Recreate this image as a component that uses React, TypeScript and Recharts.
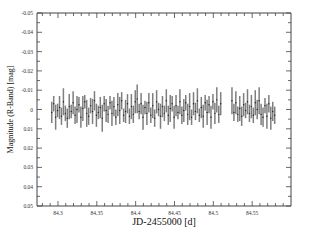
import React from 'react';
import { ComposedChart, Scatter, ErrorBar, XAxis, YAxis, Label } from 'recharts';

const timesA = [
  84.2920, 84.2945, 84.2970, 84.2995, 84.3020, 84.3045, 84.3070, 84.3095, 84.3120, 84.3145,
  84.3170, 84.3195, 84.3220, 84.3245, 84.3270, 84.3295, 84.3320, 84.3345, 84.3370, 84.3395,
  84.3420, 84.3445, 84.3470, 84.3495, 84.3520, 84.3545, 84.3570, 84.3595, 84.3620, 84.3645,
  84.3670, 84.3695, 84.3720, 84.3745, 84.3770, 84.3795, 84.3820, 84.3845, 84.3870, 84.3895,
  84.3920, 84.3945, 84.3970, 84.3995, 84.4020, 84.4045, 84.4070, 84.4095, 84.4120, 84.4145,
  84.4170, 84.4195, 84.4220, 84.4245, 84.4270, 84.4295, 84.4320, 84.4345, 84.4370, 84.4395,
  84.4420, 84.4445, 84.4470, 84.4495, 84.4520, 84.4545, 84.4570, 84.4595, 84.4620, 84.4645,
  84.4670, 84.4695, 84.4720, 84.4745, 84.4770, 84.4795, 84.4820, 84.4845, 84.4870, 84.4895,
  84.4920, 84.4945, 84.4970, 84.4995, 84.5020, 84.5045, 84.5070, 84.5095,
];
const magsA = [
  0.0015, -0.0030, 0.0040, 0.0005, -0.0010, 0.0035, -0.0040, 0.0020, 0.0045, -0.0015,
  0.0010, -0.0035, 0.0030, 0.0000, -0.0025, 0.0040, -0.0005, -0.0040, 0.0020, 0.0035,
  -0.0020, 0.0010, -0.0045, 0.0030, 0.0015, -0.0010, 0.0045, -0.0030, 0.0005, 0.0025,
  -0.0035, 0.0020, -0.0015, 0.0040, -0.0025, 0.0005, -0.0045, 0.0030, 0.0010, -0.0030,
  0.0035, -0.0015, 0.0025, -0.0040, -0.0055, 0.0010, -0.0030, 0.0040, -0.0010, 0.0020,
  -0.0035, 0.0030, -0.0020, 0.0045, -0.0040, 0.0000, 0.0035, -0.0015, 0.0020, -0.0045,
  0.0030, -0.0005, -0.0030, 0.0040, -0.0020, 0.0015, -0.0040, 0.0030, 0.0005, -0.0035,
  0.0025, -0.0015, 0.0040, -0.0030, 0.0010, -0.0045, 0.0030, -0.0010, 0.0035, -0.0035,
  0.0015, -0.0025, 0.0040, -0.0040, 0.0020, -0.0050, 0.0025, -0.0030,
];
const errsA = [
  0.0055, 0.0040, 0.0065, 0.0035, 0.0060, 0.0045, 0.0070, 0.0040, 0.0050, 0.0065,
  0.0035, 0.0060, 0.0045, 0.0070, 0.0040, 0.0055, 0.0065, 0.0035, 0.0070, 0.0045,
  0.0040, 0.0065, 0.0050, 0.0060, 0.0035, 0.0055, 0.0070, 0.0040, 0.0060, 0.0045,
  0.0035, 0.0065, 0.0050, 0.0040, 0.0060, 0.0070, 0.0045, 0.0035, 0.0060, 0.0050,
  0.0040, 0.0065, 0.0045, 0.0060, 0.0075, 0.0040, 0.0055, 0.0065, 0.0035, 0.0060,
  0.0050, 0.0040, 0.0065, 0.0045, 0.0060, 0.0035, 0.0065, 0.0055, 0.0040, 0.0060,
  0.0050, 0.0070, 0.0040, 0.0060, 0.0055, 0.0035, 0.0065, 0.0045, 0.0060, 0.0040,
  0.0055, 0.0070, 0.0040, 0.0060, 0.0045, 0.0065, 0.0035, 0.0055, 0.0060, 0.0040,
  0.0065, 0.0045, 0.0060, 0.0040, 0.0055, 0.0065, 0.0045, 0.0060,
];
const timesB = [
  84.5240, 84.5265, 84.5290, 84.5315, 84.5340, 84.5365, 84.5390, 84.5415, 84.5440, 84.5465,
  84.5490, 84.5515, 84.5540, 84.5565, 84.5590, 84.5615, 84.5640, 84.5665, 84.5690, 84.5715,
  84.5740, 84.5765, 84.5790,
];
const magsB = [
  -0.0045, 0.0015, -0.0035, 0.0025, -0.0005, 0.0035, -0.0025, 0.0005, -0.0040, 0.0020,
  -0.0015, 0.0030, -0.0035, 0.0000, -0.0045, 0.0025, 0.0040, -0.0020, 0.0035, -0.0030,
  0.0045, 0.0010, 0.0030,
];
const errsB = [
  0.0070, 0.0045, 0.0060, 0.0040, 0.0065, 0.0050, 0.0060, 0.0040, 0.0065, 0.0045,
  0.0060, 0.0040, 0.0065, 0.0050, 0.0070, 0.0055, 0.0050, 0.0040, 0.0065, 0.0045,
  0.0060, 0.0050, 0.0045,
];

const xTicks = [
  84.28, 84.29, 84.3, 84.31, 84.32, 84.33, 84.34, 84.35, 84.36, 84.37, 84.38, 84.39,
  84.4, 84.41, 84.42, 84.43, 84.44, 84.45, 84.46, 84.47, 84.48, 84.49, 84.5, 84.51,
  84.52, 84.53, 84.54, 84.55, 84.56, 84.57, 84.58, 84.59,
];
const xLabels = ['84.3', '84.35', '84.4', '84.45', '84.5', '84.55'];
const yTicks = [
  -0.05, -0.045, -0.04, -0.035, -0.03, -0.025, -0.02, -0.015, -0.01, -0.005, 0,
  0.005, 0.01, 0.015, 0.02, 0.025, 0.03, 0.035, 0.04, 0.045, 0.05,
];
const yLabels = ['-0.05', '-0.04', '-0.03', '-0.02', '-0.01', '0', '0.01', '0.02', '0.03', '0.04', '0.05'];

const data = [
  ...timesA.map((t, i) => ({ t, m: magsA[i], e: errsA[i] })),
  ...timesB.map((t, i) => ({ t, m: magsB[i], e: errsB[i] })),
];

const FONT = '"Liberation Serif", "DejaVu Serif", serif';
const AX = '#444';
const TXT = '#333';

const xLabelOf = (v: number) => xLabels.find((s) => Math.abs(parseFloat(s) - v) < 1e-6);
const yLabelOf = (v: number) => yLabels.find((s) => Math.abs(parseFloat(s) - v) < 1e-9);

const BottomTick = (p: any) => {
  const lab = xLabelOf(p.payload.value);
  return (
    <g>
      <line x1={p.x} x2={p.x} y1={p.y} y2={p.y - (lab ? 5 : 3)} stroke={AX} strokeWidth={0.8} />
      {lab && (
        <text x={p.x} y={p.y + 9} textAnchor="middle" fontSize={5.5} fontFamily={FONT} fill={TXT}>
          {lab}
        </text>
      )}
    </g>
  );
};
const TopTick = (p: any) => {
  const lab = xLabelOf(p.payload.value);
  return <line x1={p.x} x2={p.x} y1={p.y} y2={p.y + (lab ? 5 : 3)} stroke={AX} strokeWidth={0.8} />;
};
const LeftTick = (p: any) => {
  const lab = yLabelOf(p.payload.value);
  return (
    <g>
      <line x1={p.x} x2={p.x + (lab ? 5 : 3)} y1={p.y} y2={p.y} stroke={AX} strokeWidth={0.8} />
      {lab && (
        <text x={p.x - 4} y={p.y + 2} textAnchor="end" fontSize={5.5} fontFamily={FONT} fill={TXT}>
          {lab}
        </text>
      )}
    </g>
  );
};
const RightTick = (p: any) => {
  const lab = yLabelOf(p.payload.value);
  return <line x1={p.x} x2={p.x - (lab ? 5 : 3)} y1={p.y} y2={p.y} stroke={AX} strokeWidth={0.8} />;
};

const Dot = (p: any) => <circle cx={p.cx} cy={p.cy} r={0.7} fill="#222" />;
const NoDot = () => <g />;

export default function App() {
  return (
    <div style={{ position: 'absolute', left: 0, top: 0, width: 314, height: 243, background: '#fff' }}>
      <ComposedChart width={314} height={243} data={data} margin={{ top: 12, right: 22, bottom: 0, left: 0 }}>
        <XAxis
          xAxisId="b"
          dataKey="t"
          type="number"
          domain={[84.273, 84.6]}
          allowDataOverflow
          ticks={xTicks}
          interval={0}
          tickSize={0}
          tickMargin={0}
          tick={<BottomTick />}
          height={37}
          axisLine={{ stroke: AX, strokeWidth: 1 }}
        >
          <Label
            content={(props: any) => {
              const vb = props.viewBox;
              return (
                <text x={vb.x + vb.width / 2} y={vb.y + 19} textAnchor="middle" fontSize={10} fontFamily={FONT} fill="#111">
                  JD-2455000 [d]
                </text>
              );
            }}
          />
        </XAxis>
        <XAxis
          xAxisId="t"
          orientation="top"
          dataKey="t"
          type="number"
          domain={[84.273, 84.6]}
          allowDataOverflow
          ticks={xTicks}
          interval={0}
          tickSize={0}
          tickMargin={0}
          tick={<TopTick />}
          height={1}
          axisLine={{ stroke: AX, strokeWidth: 1 }}
        />
        <YAxis
          yAxisId="l"
          dataKey="m"
          type="number"
          reversed
          domain={[-0.05, 0.05]}
          allowDataOverflow
          ticks={yTicks}
          interval={0}
          tickSize={0}
          tickMargin={0}
          tick={<LeftTick />}
          width={37}
          axisLine={{ stroke: AX, strokeWidth: 1 }}
        >
          <Label
            content={(props: any) => {
              const vb = props.viewBox;
              const cx = 13;
              const cy = vb.y + vb.height / 2;
              return (
                <text x={cx} y={cy} transform={`rotate(-90 ${cx} ${cy})`} textAnchor="middle" fontSize={8} fontFamily={FONT} fill="#111">
                  Magnitude (R-Band) [mag]
                </text>
              );
            }}
          />
        </YAxis>
        <YAxis
          yAxisId="r"
          orientation="right"
          dataKey="m"
          type="number"
          reversed
          domain={[-0.05, 0.05]}
          allowDataOverflow
          ticks={yTicks}
          interval={0}
          tickSize={0}
          tickMargin={0}
          tick={<RightTick />}
          width={1}
          axisLine={{ stroke: AX, strokeWidth: 1 }}
        />
        <Scatter xAxisId="b" yAxisId="l" dataKey="m" isAnimationActive={false} shape={<Dot />}>
          <ErrorBar dataKey="e" direction="y" width={0} stroke="#7e7e7e" strokeWidth={1.5} isAnimationActive={false} />
        </Scatter>
        <Scatter xAxisId="t" yAxisId="r" dataKey="m" isAnimationActive={false} shape={<NoDot />} legendType="none" />
      </ComposedChart>
    </div>
  );
}
